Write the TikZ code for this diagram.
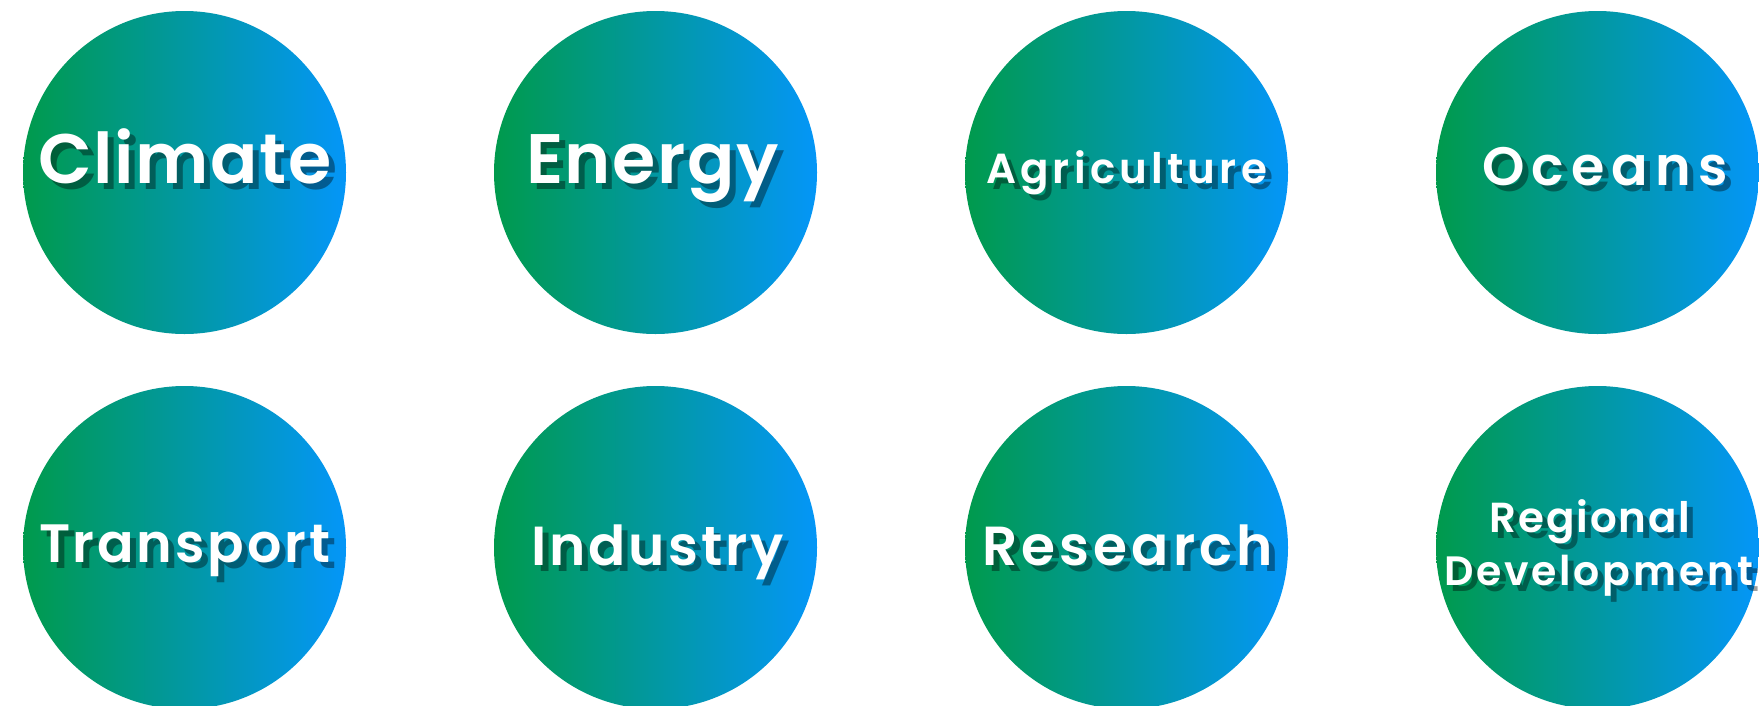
\documentclass[tikz,border=0pt]{standalone}
\usepackage{fontspec}
\newfontfamily\labfont{Poppins SemiBold}
\ExplSyntaxOn
% set a word letter by letter, spread evenly to a given width
\NewDocumentCommand\spreadword{mm}
  {\hbox_to_wd:nn {#1} {\tl_map_inline:nn {#2} {##1\hss} \unskip}}
\ExplSyntaxOff
\definecolor{gleft}{RGB}{0,154,76}
\definecolor{gright}{RGB}{4,150,248}
\tikzset{
  topic/.style={circle, inner sep=0pt, minimum size=323pt, draw=none,
    left color=gleft, right color=gright},
  lab/.style={anchor=base, inner sep=0pt, text=white,
    font=\labfont\fontsize{#1}{#1}\selectfont},
  shadowlab/.style={lab=#1, text=black, opacity=0.38},
}
% a label with its drop shadow: name, size, x, y (baseline), width, text
\newcommand\toplabel[6]{%
  \node[shadowlab=#2] (#1-s) at (#3+6,#4+6) {\spreadword{#5}{#6}};
  \node[lab=#2] (#1) at (#3,#4) {\spreadword{#5}{#6}};
}
\begin{document}
\begin{tikzpicture}[x=1pt,y=-1pt]
  \useasboundingbox (0,0) rectangle (1759,705);
  \clip (0,0) rectangle (1759,705);
  \fill[white] (0,0) rectangle (1759,705);

  \node[topic] (climate)     at (184.5,172.5) {};
  \node[topic] (energy)      at (655.5,172.5) {};
  \node[topic] (agriculture) at (1126.5,172.5) {};
  \node[topic] (oceans)      at (1597.5,172.5) {};
  \node[topic] (transport)   at (184.5,547.5) {};
  \node[topic] (industry)    at (655.5,547.5) {};
  \node[topic] (research)    at (1126.5,547.5) {};
  \node[topic] (regional)    at (1597.5,547.5) {};

  \toplabel{climate-t}{70}{185}{183}{294pt}{Climate}
  \toplabel{energy-t}{70}{652.5}{183}{253pt}{Energy}
  \toplabel{agriculture-t}{42}{1126.5}{183}{281pt}{Agriculture}
  \toplabel{oceans-t}{54}{1605}{185}{246pt}{Oceans}
  \toplabel{transport-t}{54}{184.5}{562}{291pt}{Transport}
  \toplabel{industry-t}{55}{657.5}{565}{253pt}{Industry}
  \toplabel{research-t}{55}{1127.5}{565}{291pt}{Research}
  \toplabel{regional-t}{42}{1590}{532}{201pt}{Regional}
  \toplabel{development-t}{41}{1598.5}{585}{309pt}{Development}
\end{tikzpicture}
\end{document}
